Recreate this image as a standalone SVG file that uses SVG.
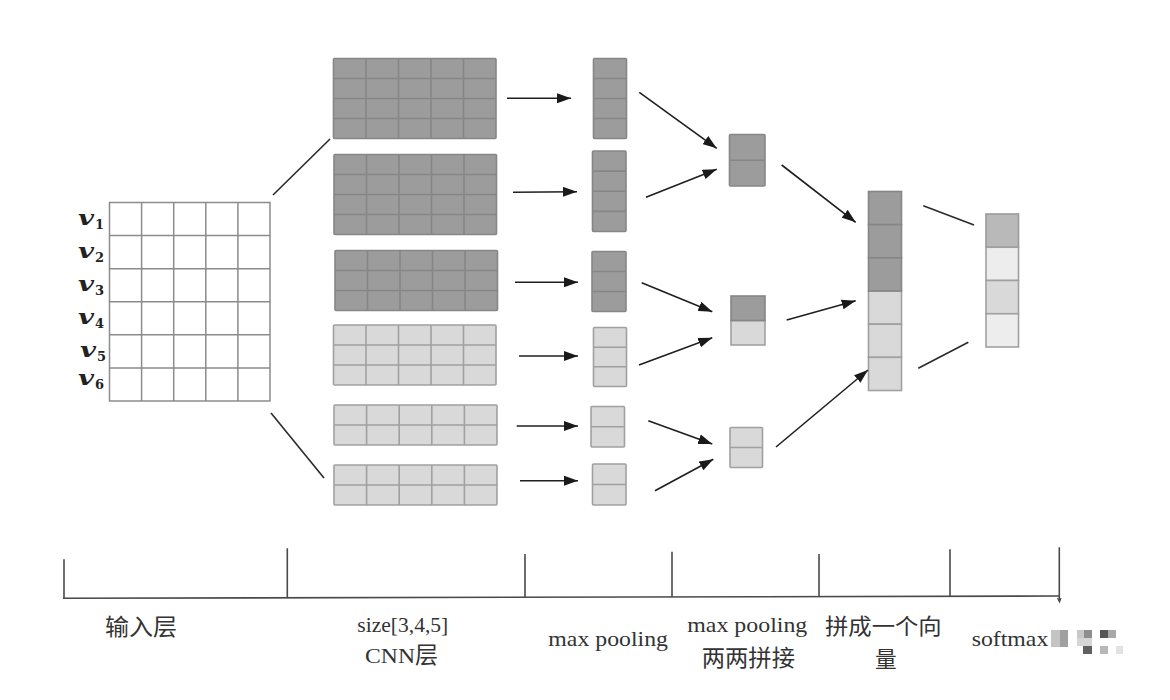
<svg xmlns="http://www.w3.org/2000/svg" width="1170" height="700" viewBox="0 0 1170 700">
<defs>
<marker id="ah" viewBox="0 0 14 10" refX="14" refY="5" markerWidth="14" markerHeight="10" markerUnits="userSpaceOnUse" orient="auto">
<path d="M0,0 L14,5 L0,10 z" fill="#1a1a1a"/>
</marker>
<style>
.dk{fill:#9c9c9c;stroke:#868686;stroke-width:1.6}
.lt{fill:#d9d9d9;stroke:#a0a0a0;stroke-width:1.6}
.dl{fill:none;stroke:#868686;stroke-width:1.6}
.ll{fill:none;stroke:#a0a0a0;stroke-width:1.6}
.wh{fill:#ffffff;stroke:#8c8c8c;stroke-width:1.5}
.wl{fill:none;stroke:#8c8c8c;stroke-width:1.5}
.arr{fill:none;stroke:#1f1f1f;stroke-width:1.6;marker-end:url(#ah)}
.ln{fill:none;stroke:#2a2a2a;stroke-width:1.6}
.ax{fill:none;stroke:#4a4a4a;stroke-width:1.6}
.v{font-family:"DejaVu Serif",serif;font-weight:bold;font-style:italic;font-size:21px;fill:#222}
.vs{font-family:"DejaVu Serif",serif;font-weight:bold;font-size:13px;fill:#222}
.lat{font-family:"Liberation Serif",serif;font-size:22px;fill:#333}
.cjk{font-family:"Noto Sans CJK SC",sans-serif;font-size:23px;fill:#333}
.cjk2{font-family:"Noto Sans CJK SC",sans-serif;font-size:22px;fill:#333}
</style>
</defs>
<rect width="1170" height="700" fill="#ffffff"/>

<g id="input">
<rect class="wh" x="109.5" y="202.5" width="160.5" height="198.5"/>
<path class="wl" d="M141.6,202.5V401 M173.7,202.5V401 M205.8,202.5V401 M237.9,202.5V401 M109.5,235.6H270 M109.5,268.7H270 M109.5,301.75H270 M109.5,334.8H270 M109.5,367.9H270"/>
<text class="v" x="78" y="225" textLength="16" lengthAdjust="spacingAndGlyphs">v</text><text class="vs" x="95" y="229">1</text>
<text class="v" x="78" y="258" textLength="16" lengthAdjust="spacingAndGlyphs">v</text><text class="vs" x="95" y="262">2</text>
<text class="v" x="78" y="290.5" textLength="16" lengthAdjust="spacingAndGlyphs">v</text><text class="vs" x="95" y="294.5">3</text>
<text class="v" x="78" y="323.5" textLength="16" lengthAdjust="spacingAndGlyphs">v</text><text class="vs" x="95" y="327.5">4</text>
<text class="v" x="80" y="356.5" textLength="16" lengthAdjust="spacingAndGlyphs">v</text><text class="vs" x="97" y="360.5">5</text>
<text class="v" x="78" y="385" textLength="16" lengthAdjust="spacingAndGlyphs">v</text><text class="vs" x="95" y="389">6</text>
</g>

<g id="cnn1">
<rect class="dk" x="333.5" y="58.5" width="162.5" height="80" rx="1"/>
<path class="dl" d="M366,58.5V138.5 M398.5,58.5V138.5 M431,58.5V138.5 M463.5,58.5V138.5 M333.5,78.5H496 M333.5,98.5H496 M333.5,118.5H496"/>
</g>
<g id="cnn2">
<rect class="dk" x="334" y="154.5" width="162.5" height="80" rx="1"/>
<path class="dl" d="M366.5,154.5V234.5 M399,154.5V234.5 M431.5,154.5V234.5 M464,154.5V234.5 M334,174.5H496.5 M334,194.5H496.5 M334,214.5H496.5"/>
</g>
<g id="cnn3">
<rect class="dk" x="335" y="250.5" width="162.5" height="60" rx="1"/>
<path class="dl" d="M367.5,250.5V310.5 M400,250.5V310.5 M432.5,250.5V310.5 M465,250.5V310.5 M335,270.5H497.5 M335,290.5H497.5"/>
</g>
<g id="cnn4">
<rect class="lt" x="333.5" y="325" width="162.5" height="60" rx="1"/>
<path class="ll" d="M366,325V385 M398.5,325V385 M431,325V385 M463.5,325V385 M333.5,345H496 M333.5,365H496"/>
</g>
<g id="cnn5">
<rect class="lt" x="334" y="405" width="163" height="40" rx="1"/>
<path class="ll" d="M366.6,405V445 M399.2,405V445 M431.8,405V445 M464.4,405V445 M334,425H497"/>
</g>
<g id="cnn6">
<rect class="lt" x="334" y="465" width="163" height="40" rx="1"/>
<path class="ll" d="M366.6,465V505 M399.2,465V505 M431.8,465V505 M464.4,465V505 M334,485H497"/>
</g>

<g id="pool1">
<rect class="dk" x="593.5" y="58.5" width="33" height="80" rx="1"/>
<path class="dl" d="M593.5,78.5H626.5 M593.5,98.5H626.5 M593.5,118.5H626.5"/>
</g>
<g id="pool2">
<rect class="dk" x="592.5" y="151" width="33.5" height="80.5" rx="1"/>
<path class="dl" d="M592.5,171.1H626 M592.5,191.25H626 M592.5,211.4H626"/>
</g>
<g id="pool3">
<rect class="dk" x="592" y="251.5" width="34" height="60" rx="1"/>
<path class="dl" d="M592,271.5H626 M592,291.5H626"/>
</g>
<g id="pool4">
<rect class="lt" x="593.5" y="327.5" width="33" height="59" rx="1"/>
<path class="ll" d="M593.5,347.2H626.5 M593.5,366.8H626.5"/>
</g>
<g id="pool5">
<rect class="lt" x="591" y="406.5" width="33.5" height="40.5" rx="1"/>
<path class="ll" d="M591,426.75H624.5"/>
</g>
<g id="pool6">
<rect class="lt" x="592.5" y="464" width="33.5" height="41" rx="1"/>
<path class="ll" d="M592.5,484.5H626"/>
</g>

<g id="merge1">
<rect class="dk" x="729.5" y="134.5" width="35.5" height="51.5" rx="1"/>
<path class="dl" d="M729.5,160.25H765"/>
</g>
<g id="merge2">
<rect class="lt" x="731" y="320.5" width="34" height="24.5"/>
<rect class="dk" x="731" y="296" width="34" height="24.5"/>
</g>
<g id="merge3">
<rect class="lt" x="730" y="427.5" width="32.5" height="40" rx="1"/>
<path class="ll" d="M730,447.5H762.5"/>
</g>

<g id="concat">
<rect class="lt" x="868.5" y="291" width="33" height="33.17"/>
<rect class="lt" x="868.5" y="324.17" width="33" height="33.17"/>
<rect class="lt" x="868.5" y="357.33" width="33" height="33.17"/>
<rect class="dk" x="868.5" y="191.5" width="33" height="33.17"/>
<rect class="dk" x="868.5" y="224.67" width="33" height="33.17"/>
<rect class="dk" x="868.5" y="257.83" width="33" height="33.17"/>
</g>

<g id="softmax">
<rect x="986" y="214" width="32.5" height="33.25" fill="#b9b9b9" stroke="#9a9a9a" stroke-width="1.6"/>
<rect x="986" y="247.25" width="32.5" height="33.25" fill="#ededed" stroke="#a0a0a0" stroke-width="1.6"/>
<rect x="986" y="280.5" width="32.5" height="33.25" fill="#d9d9d9" stroke="#a0a0a0" stroke-width="1.6"/>
<rect x="986" y="313.75" width="32.5" height="33.25" fill="#ededed" stroke="#a0a0a0" stroke-width="1.6"/>
</g>

<g id="connectors">
<line class="ln" x1="273" y1="195" x2="330" y2="139"/>
<line class="ln" x1="271" y1="413" x2="324" y2="478"/>
<line class="arr" x1="507" y1="98.3" x2="571" y2="98.3"/>
<line class="arr" x1="513" y1="192.3" x2="577" y2="191.7"/>
<line class="arr" x1="515" y1="282.3" x2="578" y2="282.3"/>
<line class="arr" x1="519" y1="356" x2="578" y2="356"/>
<line class="arr" x1="516.7" y1="426" x2="578" y2="426"/>
<line class="arr" x1="520" y1="480.7" x2="578" y2="480.7"/>
<line class="arr" x1="639.3" y1="92.3" x2="716.7" y2="148.3"/>
<line class="arr" x1="646" y1="197.3" x2="716.7" y2="169.3"/>
<line class="arr" x1="641.7" y1="282.7" x2="712.3" y2="311.7"/>
<line class="arr" x1="639" y1="365" x2="712.3" y2="337.7"/>
<line class="arr" x1="648.3" y1="420.7" x2="712.3" y2="444"/>
<line class="arr" x1="655" y1="490.7" x2="713.3" y2="459.3"/>
<line class="arr" x1="781.7" y1="165" x2="855.7" y2="222.3"/>
<line class="arr" x1="786.7" y1="320" x2="855.7" y2="300.7"/>
<line class="arr" x1="776" y1="447" x2="868" y2="370"/>
<line class="ln" x1="923.3" y1="205.7" x2="974" y2="225"/>
<line class="ln" x1="918.3" y1="368.3" x2="968.3" y2="342.3"/>
</g>

<g id="axis">
<path class="ax" d="M63,598.3 L1059,596"/>
<path class="ax" d="M64,559.3V598.3 M287.3,548.3V598 M525,554V597.2 M672,551.7V596.9 M819,554V596.6 M950,549.3V596.3 M1059.3,547.3V600.7"/>
<path d="M1057.5,598 L1059.5,602 L1061,598" fill="none" stroke="#4a4a4a" stroke-width="1.2"/>
</g>

<g id="labels">
<text class="cjk" x="105" y="635" textLength="72" lengthAdjust="spacingAndGlyphs">输入层</text>
<text class="lat" x="357.3" y="631.7" textLength="91" lengthAdjust="spacingAndGlyphs">size[3,4,5]</text>
<text x="365" y="663.3"><tspan class="lat" textLength="50" lengthAdjust="spacingAndGlyphs">CNN</tspan><tspan class="cjk">层</tspan></text>
<text class="lat" x="548.3" y="646" textLength="119.7" lengthAdjust="spacingAndGlyphs">max pooling</text>
<text class="lat" x="687.3" y="631.7" textLength="120" lengthAdjust="spacingAndGlyphs">max pooling</text>
<text class="cjk" x="701.7" y="666" textLength="93.3" lengthAdjust="spacingAndGlyphs">两两拼接</text>
<text class="cjk2" x="825" y="633.5" textLength="116.7" lengthAdjust="spacingAndGlyphs">拼成一个向</text>
<text class="cjk2" x="875" y="667" textLength="21.7" lengthAdjust="spacingAndGlyphs">量</text>
<text class="lat" x="971.7" y="646" textLength="76.6" lengthAdjust="spacingAndGlyphs">softmax</text>
</g>

<g id="mosaic">
<rect x="1051" y="630" width="9" height="17" fill="#c4c4c4"/>
<rect x="1060" y="630" width="8" height="17" fill="#a0a0a0"/>
<rect x="1077" y="630" width="7" height="8" fill="#c8c8c8"/>
<rect x="1084" y="630" width="8" height="8" fill="#8e8e8e"/>
<rect x="1077" y="638" width="15" height="8" fill="#d6d6d6"/>
<rect x="1083" y="646" width="9" height="8" fill="#606060"/>
<rect x="1100" y="630" width="8" height="8" fill="#555555"/>
<rect x="1108" y="630" width="8" height="8" fill="#a8a8a8"/>
<rect x="1100" y="646" width="8" height="8" fill="#b8b8b8"/>
<rect x="1116" y="646" width="7" height="8" fill="#e2e2e2"/>
</g>
</svg>
